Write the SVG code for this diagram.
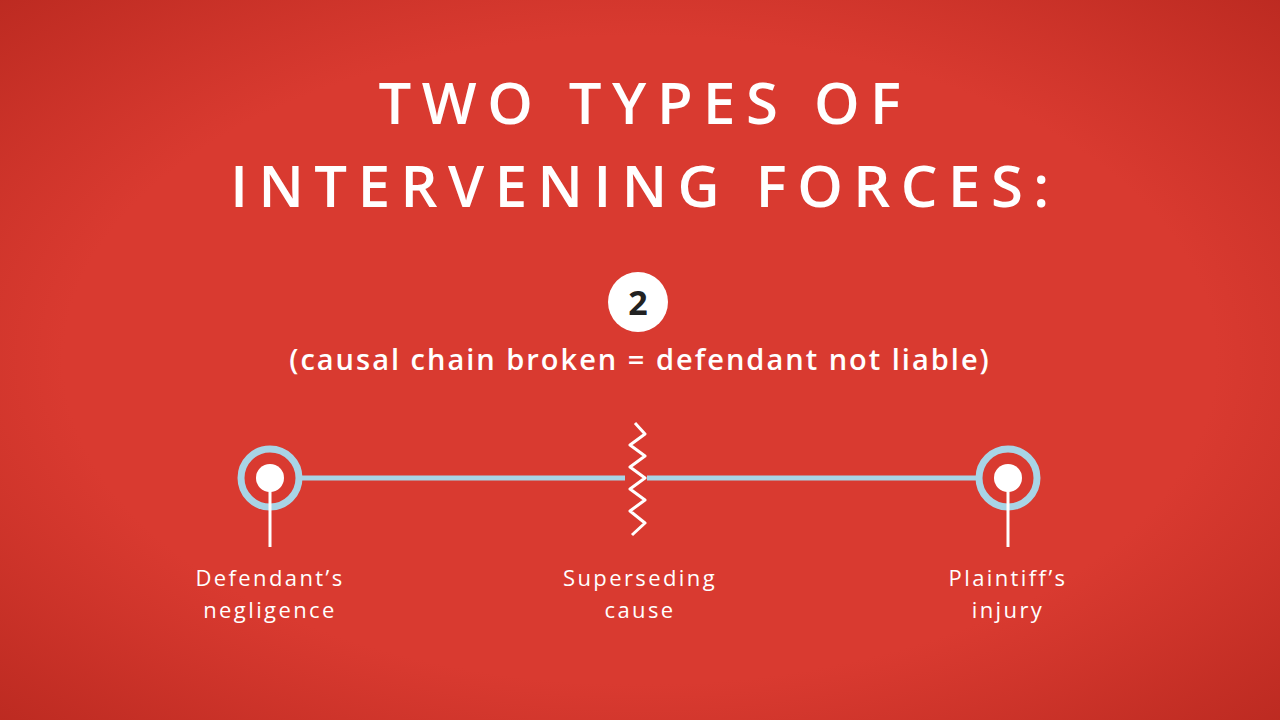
<svg xmlns="http://www.w3.org/2000/svg" width="1280" height="720" viewBox="0 0 1280 720">
<defs>
<radialGradient id="bg" cx="50%" cy="50%" r="75%">
<stop offset="0.6" stop-color="#d93a30"/><stop offset="1" stop-color="#b8281f"/>
</radialGradient>
<style>
.t{font-family:"Open Sans","Liberation Sans",sans-serif;fill:#fff}
.title{font-size:58px;font-weight:600;letter-spacing:10.5px}
.lbl{font-size:22px;letter-spacing:2.4px}
.ring{fill:none;stroke:#a8d4e6;stroke-width:7}
.dot{fill:#fff}
.stem{stroke:#fff;stroke-width:3}
.link{stroke:#a8d4e6;stroke-width:5}
</style>
</defs>
<rect width="1280" height="720" fill="url(#bg)"/>
<text class="t title" x="645" y="124" text-anchor="middle">TWO TYPES OF</text>
<text class="t title" x="645" y="207" text-anchor="middle">INTERVENING FORCES:</text>
<g id="badge"><circle cx="638" cy="302" r="30" fill="#fff"/>
<text x="638" y="315" text-anchor="middle" font-family="Open Sans,Liberation Sans,sans-serif" font-weight="700" font-size="34" fill="#222">2</text></g>
<text class="t" x="640" y="370" text-anchor="middle" font-size="29" font-weight="600" letter-spacing="2">(causal chain broken = defendant not liable)</text>
<g id="connectors">
<line class="link" x1="302" y1="478" x2="625" y2="478"/>
<line class="link" x1="647" y1="478" x2="977" y2="478"/>
</g>
<g id="n1"><circle class="ring" cx="270" cy="478" r="29"/><circle class="dot" cx="270" cy="478" r="14"/><line class="stem" x1="270" y1="490" x2="270" y2="547"/>
<text class="t lbl" x="270" y="586" text-anchor="middle">Defendant’s</text><text class="t lbl" x="270" y="618" text-anchor="middle">negligence</text></g>
<g id="n2"><polyline points="635,423 645,434 630,445 645,456 630,467 645,478 630,489 645,500 630,511 645,523 632,535" fill="none" stroke="#fff" stroke-width="3" stroke-linejoin="round"/>
<text class="t lbl" x="640" y="586" text-anchor="middle">Superseding</text><text class="t lbl" x="640" y="618" text-anchor="middle">cause</text></g>
<g id="n3"><circle class="ring" cx="1008" cy="478" r="29"/><circle class="dot" cx="1008" cy="478" r="14"/><line class="stem" x1="1008" y1="490" x2="1008" y2="547"/>
<text class="t lbl" x="1008" y="586" text-anchor="middle">Plaintiff’s</text><text class="t lbl" x="1008" y="618" text-anchor="middle">injury</text></g>
</svg>
